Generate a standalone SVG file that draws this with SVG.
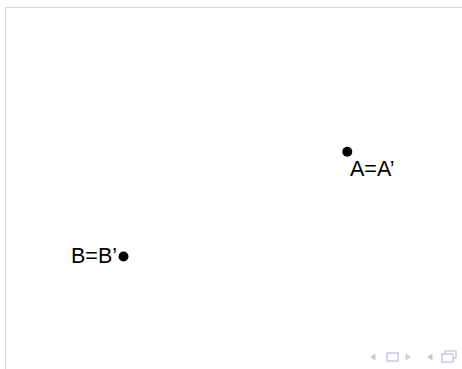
<svg xmlns="http://www.w3.org/2000/svg" width="462" height="369" viewBox="0 0 462 369">
<style>
.lbl{font-family:"Liberation Sans",Arial,sans-serif;font-size:21.5px;fill:#000}
.nav{fill:#c9c9e6;stroke:none}
.navs{fill:none;stroke:#b9b9e0;stroke-width:1.2}
</style>
<rect width="462" height="369" fill="#fff"/>
<g id="frame">
<line x1="5.5" y1="7.5" x2="462" y2="7.5" stroke="#d8d8d8" stroke-width="1"/>
<line x1="5.5" y1="7" x2="5.5" y2="369" stroke="#d8d8d8" stroke-width="1"/>
</g>
<g id="connectors"></g>
<g id="pointA">
<circle cx="347.3" cy="151.7" r="5" fill="#000"/>
<text class="lbl" x="350" y="176">A=A’</text>
</g>
<g id="pointB">
<circle cx="123.5" cy="256.5" r="5" fill="#000"/>
<text class="lbl" x="71" y="262.5">B=B’</text>
</g>
<g id="nav">
<polygon class="nav" points="370,357 375.5,353.5 375.5,360.5"/>
<rect class="navs" x="387" y="353" width="11" height="8"/>
<polygon class="nav" points="411,357 405.5,353.5 405.5,360.5"/>
<polygon class="nav" points="427,357 432.5,353.5 432.5,360.5"/>
<path class="navs" d="M445,354 V351 H456 V358 H453"/>
<rect class="navs" x="442" y="354" width="11" height="8" fill="#fff"/>
</g>
</svg>
